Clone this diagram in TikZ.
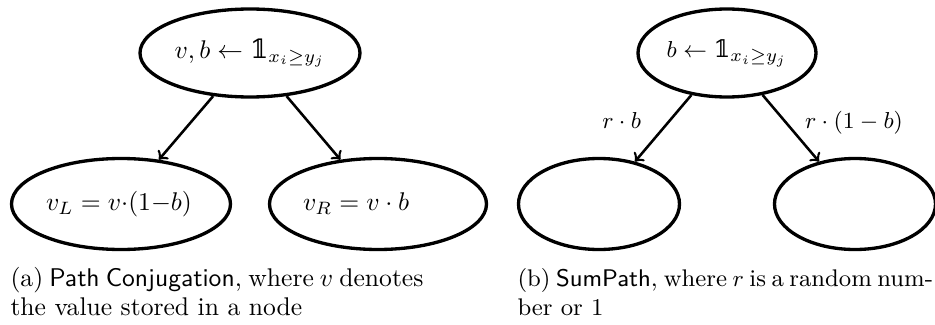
\documentclass[tikz,border=0pt]{standalone}
\usepackage{amsmath,amssymb}
\usepackage{fontspec}
\newfontfamily\dsfam{DejaVu Serif}
\newcommand{\indic}{\text{\dsfam\symbol{"1D7D9}}}
\usetikzlibrary{shapes.geometric}
\begin{document}
\begin{tikzpicture}[x=0.390625pt,y=-0.390625pt,
  treenode/.style={ellipse,draw,line width=1.3pt,inner sep=0pt,font=\fontsize{10.3pt}{12pt}\selectfont},
  smallnode/.style={treenode,font=\fontsize{9.4pt}{11pt}\selectfont},
  edgearrow/.style={->,line width=1pt},
  edgelabel/.style={inner sep=0pt,font=\fontsize{9.4pt}{11pt}\selectfont},
  captext/.style={inner sep=0pt,anchor=base west,align=left,
    font=\fontsize{10pt}{10.94pt}\selectfont},
  smallcap/.style={captext,font=\fontsize{9.4pt}{10.94pt}\selectfont}]
\useasboundingbox (0,0) rectangle (935,324);
% panel (a)
\node[treenode,minimum width=220*0.390625pt,minimum height=88*0.390625pt] (A) at (250,53) {$v,b\leftarrow \indic_{x_i\geq y_j}$};
\node[treenode,minimum width=219*0.390625pt,minimum height=91*0.390625pt,text width=150*0.390625pt,align=left] (AL) at (121,204) {$v_L = v{\cdot}(1{-}b)$};
\node[treenode,minimum width=217*0.390625pt,minimum height=91*0.390625pt,text width=150*0.390625pt,align=left] (AR) at (378,204) {$v_R = v\cdot b$};
\draw[edgearrow] (A) -- (AL);
\draw[edgearrow] (A) -- (AR);
% panel (b)
\node[smallnode,minimum width=178*0.390625pt,minimum height=88*0.390625pt] (B) at (727,53) {$b\leftarrow \indic_{x_i\geq y_j}$};
\node[smallnode,minimum width=161*0.390625pt,minimum height=91*0.390625pt] (BL) at (599,204) {};
\node[smallnode,minimum width=161*0.390625pt,minimum height=91*0.390625pt] (BR) at (855,204) {};
\draw[edgearrow] (B) -- node[edgelabel,anchor=base east,xshift=-21*0.390625pt] {$r\cdot b$} (BL);
\draw[edgearrow] (B) -- node[edgelabel,anchor=base west,xshift=13*0.390625pt] {$r\cdot(1-b)$} (BR);
% captions
\node[captext] (capA) at (10,315) {\makebox[161.3pt][s]{(a) \textsf{Path Conjugation}, where $v$ denotes}\\ the value stored in a node};
\node[smallcap] (capB) at (517,315) {\makebox[161.3pt][s]{(b) \textsf{SumPath}, where $r$ is a random num-}\\ ber or 1};
\end{tikzpicture}
\end{document}
